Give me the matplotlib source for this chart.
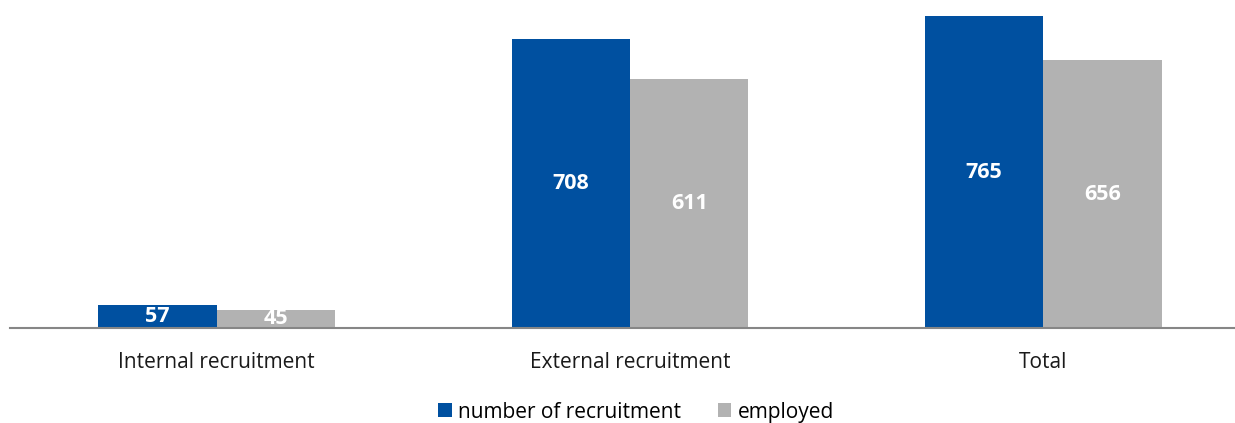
import matplotlib
matplotlib.use("Agg")
import matplotlib.pyplot as plt
import numpy as np

categories = ["Internal recruitment", "External recruitment", "Total"]
recruitment = [57, 708, 765]
employed = [45, 611, 656]
series_names = ["number of recruitment", "employed"]
colors = ["#0050A0", "#B2B2B2"]

plt.rcParams['font.family'] = ['Open Sans', 'DejaVu Sans']

W, H = 1235, 423
fig = plt.figure(figsize=(W/100, H/100), dpi=100)
base = 328
ax = fig.add_axes([10/W, 1 - base/H, 1240/W, base/H])

x = np.arange(len(categories))
bw = 0.2865
b1 = ax.bar(x - bw/2, recruitment, bw, color=colors[0], label=series_names[0])
b2 = ax.bar(x + bw/2, employed, bw, color=colors[1], label=series_names[1])

for bars, vals in ((b1, recruitment), (b2, employed)):
    for r, v in zip(bars, vals):
        ax.text(r.get_x() + r.get_width()/2, v/2, str(v), ha='center', va='center',
                color='white', fontsize=15.5, fontweight='bold')

ax.set_xlim(-0.5, 2.5)
ax.set_ylim(0, 765 * base / 312)
for s in ['top', 'right', 'left']:
    ax.spines[s].set_visible(False)
ax.spines['bottom'].set_color('#868686')
ax.spines['bottom'].set_linewidth(1.5)
ax.set_yticks([])
ax.set_xticks(x)
ax.set_xticklabels(categories, fontsize=15, color='#1a1a1a')
ax.tick_params(axis='x', length=0, pad=17)

fig.legend(handles=[b1, b2], labels=series_names, loc='center', bbox_to_anchor=(636/W, 1 - 412/H),
           ncol=2, frameon=False, fontsize=15, handlelength=0.65, handleheight=0.65,
           handletextpad=0.3, columnspacing=1.75)

fig.savefig("out.png", dpi=100)
